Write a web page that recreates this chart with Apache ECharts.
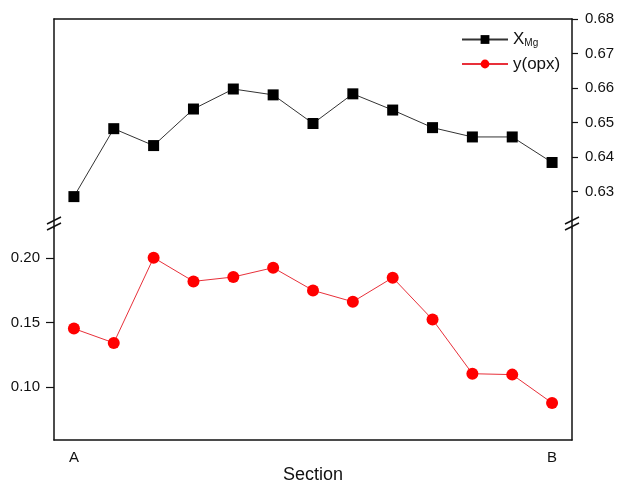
<!DOCTYPE html>
<html>
  <script src="https://cdn.jsdelivr.net/npm/echarts@6/dist/echarts.min.js"></script>
  <head>
    <meta charset="utf-8" />
    <title>Section</title>
  </head>
  <body style="margin: 0">
    <div id="main" style="width: 619px; height: 482px;"></div>
  </body>
  <script>
    // points along the section A -> B
    var sectionLabels = ['A', '2', '3', '4', '5', '6', '7', '8', '9', '10', '11', '12', 'B']
    var xmgData = [0.6285, 0.6482, 0.6433, 0.6539, 0.6597, 0.658, 0.6497, 0.6583, 0.6536, 0.6485, 0.6458, 0.6458, 0.6384]
    var yopxData = [0.1453, 0.1342, 0.2003, 0.1819, 0.1853, 0.1925, 0.1749, 0.1661, 0.1848, 0.1523, 0.1103, 0.1096, 0.0876]
    var xmgTicks = [0.63, 0.64, 0.65, 0.66, 0.67, 0.68]
    var yopxTicks = [0.1, 0.15, 0.2]

    var L = 54, R = 47, T = 19, BRK = 228, BOT = 440
    var font = 'Liberation Sans'
    var black = '#111'

    var lineOnly = {
      axisLine: { show: true, lineStyle: { color: black, width: 1.5 } },
      axisTick: { show: false },
      axisLabel: { show: false },
      splitLine: { show: false },
    }

    function breakMark(x, y) {
      return [0, 6].map(function (d) {
        return {
          type: 'line',
          shape: { x1: x - 7, y1: y + 2 - d, x2: x + 7, y2: y - 5 - d },
          style: { stroke: black, lineWidth: 1.5 },
        }
      })
    }

    var chart = echarts.init(document.getElementById('main'))
    var option = {
      backgroundColor: '#fff',
      animation: false,
      textStyle: { fontFamily: font },
      grid: [
        { left: L, right: R, top: T, height: BRK - T, outerBoundsMode: 'none' },
        { left: L, right: R, top: BRK, height: BOT - BRK, outerBoundsMode: 'none' },
      ],
      legend: {
        left: 456,
        top: 26,
        orient: 'vertical',
        itemWidth: 46,
        itemHeight: 11,
        itemGap: 7,
        textStyle: {
          fontSize: 17,
          color: black,
          rich: {
            x: { fontSize: 17, color: black, fontFamily: font },
            s: { fontSize: 10, color: black, fontFamily: font, padding: [8, 0, 0, 0] },
          },
        },
        formatter: function (name) {
          return name === 'XMg' ? '{x|X}{s|Mg}' : name
        },
        data: ['XMg', 'y(opx)'],
      },
      xAxis: [
        Object.assign({ type: 'category', gridIndex: 0, position: 'top', data: sectionLabels, boundaryGap: true }, lineOnly),
        {
          type: 'category',
          gridIndex: 1,
          position: 'bottom',
          data: sectionLabels,
          boundaryGap: true,
          name: 'Section',
          nameLocation: 'middle',
          nameGap: 24,
          nameTextStyle: { fontSize: 18, color: black, fontFamily: font },
          axisLine: { show: true, lineStyle: { color: black, width: 1.5 } },
          axisTick: { show: false },
          splitLine: { show: false },
          axisLabel: {
            interval: 0,
            margin: 10,
            fontSize: 15,
            color: black,
            formatter: function (v) {
              return v === 'A' || v === 'B' ? v : ''
            },
          },
        },
      ],
      yAxis: [
        {
          type: 'value',
          gridIndex: 0,
          position: 'right',
          min: 0.6194,
          max: 0.68,
          axisLine: { show: true, lineStyle: { color: black, width: 1.5 } },
          axisTick: { show: true, inside: false, length: 6, customValues: xmgTicks, lineStyle: { color: black, width: 1.2 } },
          axisLabel: {
            customValues: xmgTicks,
            margin: 13,
            fontSize: 15,
            color: black,
            formatter: function (v) { return v.toFixed(2) },
          },
          splitLine: { show: false },
        },
        Object.assign({ type: 'value', gridIndex: 0, position: 'left', min: 0.6194, max: 0.68 }, lineOnly),
        {
          type: 'value',
          gridIndex: 1,
          position: 'left',
          min: 0.0589,
          max: 0.2233,
          axisLine: { show: true, lineStyle: { color: black, width: 1.5 } },
          axisTick: { show: true, inside: false, length: 8, customValues: yopxTicks, lineStyle: { color: black, width: 1.2 } },
          axisLabel: {
            customValues: yopxTicks,
            margin: 14,
            fontSize: 15,
            color: black,
            formatter: function (v) { return v.toFixed(2) },
          },
          splitLine: { show: false },
        },
        Object.assign({ type: 'value', gridIndex: 1, position: 'right', min: 0.0589, max: 0.2233 }, lineOnly),
      ],
      series: [
        {
          name: 'XMg',
          type: 'line',
          xAxisIndex: 0,
          yAxisIndex: 0,
          data: xmgData,
          symbol: 'rect',
          symbolSize: 11,
          itemStyle: { color: '#000' },
          lineStyle: { color: '#333', width: 1 },
        },
        {
          name: 'y(opx)',
          type: 'line',
          xAxisIndex: 1,
          yAxisIndex: 2,
          data: yopxData,
          symbol: 'circle',
          symbolSize: 12,
          itemStyle: { color: '#f00' },
          lineStyle: { color: '#e8303a', width: 1 },
        },
      ],
      graphic: breakMark(L, BRK).concat(breakMark(619 - R, BRK)),
    }
    option && chart.setOption(option)
  </script>
</html>
